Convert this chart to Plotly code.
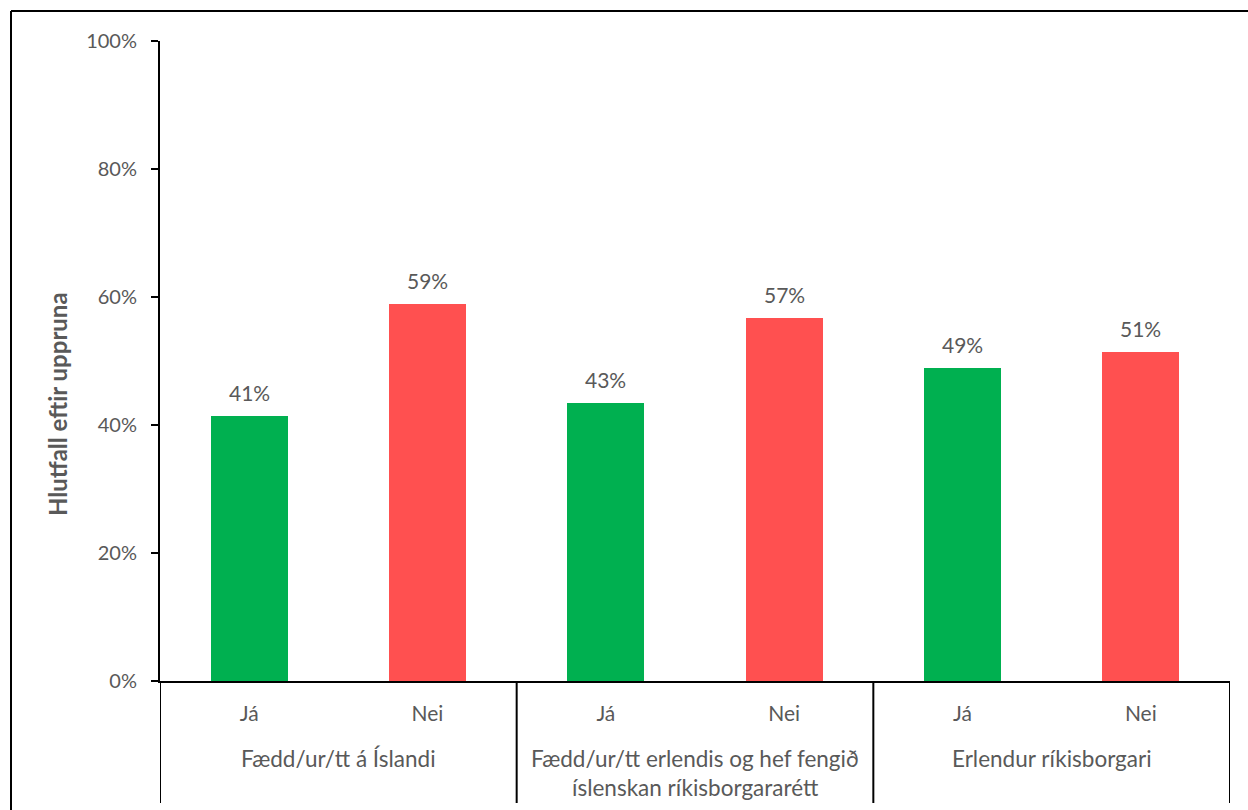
import plotly.graph_objects as go

# Survey shares by origin group and answer
groups = ["Fædd/ur/tt á Íslandi",
          "Fædd/ur/tt erlendis og hef fengið|íslenskan ríkisborgararétt",
          "Erlendur ríkisborgari"]
answers = ["Já", "Nei"]
share_ja = [0.414, 0.434, 0.489]
share_nei = [0.589, 0.567, 0.514]
y_ticks = [0, 0.2, 0.4, 0.6, 0.8, 1.0]
y_tick_text = ["0%", "20%", "40%", "60%", "80%", "100%"]
axis_title = "Hlutfall eftir uppruna"

GREEN = "#00B050"
RED = "#FF5050"
TEXT = "#595959"
FONT = "Lato"

# Flatten into one bar per (group, answer), positioned 0..5
values, colors, labels = [], [], []
for ja, nei in zip(share_ja, share_nei):
    values += [ja, nei]
    colors += [GREEN, RED]
    labels += answers
xpos = list(range(len(values)))

fig = go.Figure()
fig.add_trace(go.Bar(
    x=xpos, y=values, marker=dict(color=colors, line=dict(width=0)),
    width=0.432, hoverinfo="skip", showlegend=False,
))

annotations = []
# Value labels above each bar
for x, v in zip(xpos, values):
    annotations.append(dict(
        x=x, y=v, xref="x", yref="y", text=f"{v:.0%}", showarrow=False,
        yanchor="middle", yshift=24, font=dict(family=FONT, size=21, color=TEXT),
    ))

# Group labels under the answer labels (second line where the label wraps)
for i, g in enumerate(groups):
    for j, line in enumerate(g.split("|")):
        annotations.append(dict(
            x=2 * i + 0.5, xref="x", y=(681 - 758 - 29 * j) / 640, yref="paper",
            text=line, showarrow=False, yanchor="middle",
            font=dict(family=FONT, size=22.5, color=TEXT),
        ))

# Rotated y-axis title
annotations.append(dict(
    x=(57 - 160) / 1070, xref="paper", y=(681 - 404) / 640, yref="paper",
    text=f"<b>{axis_title}</b>", textangle=-90, showarrow=False,
    xanchor="center", yanchor="middle", font=dict(family=FONT, size=24, color=TEXT),
))

shapes = []
# Group dividers running below the category axis
for xb in [-0.5, 1.5, 3.5, 5.5]:
    shapes.append(dict(type="line", xref="x", yref="paper", x0=xb, x1=xb,
                       y0=0, y1=(681 - 803) / 640, line=dict(color="black", width=2)))
# Outer frame (top and left edges)
shapes.append(dict(type="line", xref="paper", yref="paper",
                   x0=(11 - 160) / 1070, x1=(1260 - 160) / 1070,
                   y0=(681 - 11) / 640, y1=(681 - 11) / 640,
                   line=dict(color="black", width=2)))
shapes.append(dict(type="line", xref="paper", yref="paper",
                   x0=(11 - 160) / 1070, x1=(11 - 160) / 1070,
                   y0=(681 - 11) / 640, y1=(681 - 830) / 640,
                   line=dict(color="black", width=2)))

fig.update_layout(
    width=1248, height=810,
    margin=dict(l=160, r=18, t=41, b=129),
    paper_bgcolor="white", plot_bgcolor="white",
    font=dict(family=FONT, size=20, color=TEXT),
    bargap=0,
    annotations=annotations, shapes=shapes,
    xaxis=dict(
        range=[-0.5, 5.5], tickmode="array", tickvals=xpos, ticktext=labels,
        showgrid=False, zeroline=False, showline=True, linecolor="black", linewidth=2,
        ticks="", ticklabelstandoff=13, tickfont=dict(family=FONT, size=21, color=TEXT),
    ),
    yaxis=dict(
        range=[0, 1], tickmode="array", tickvals=y_ticks, ticktext=y_tick_text,
        showgrid=False, zeroline=False, showline=True, linecolor="black", linewidth=2,
        ticks="outside", ticklen=7, tickwidth=2, tickcolor="black",
        ticklabelstandoff=10, tickfont=dict(family=FONT, size=20, color=TEXT),
    ),
)

fig.write_html("out.html")
